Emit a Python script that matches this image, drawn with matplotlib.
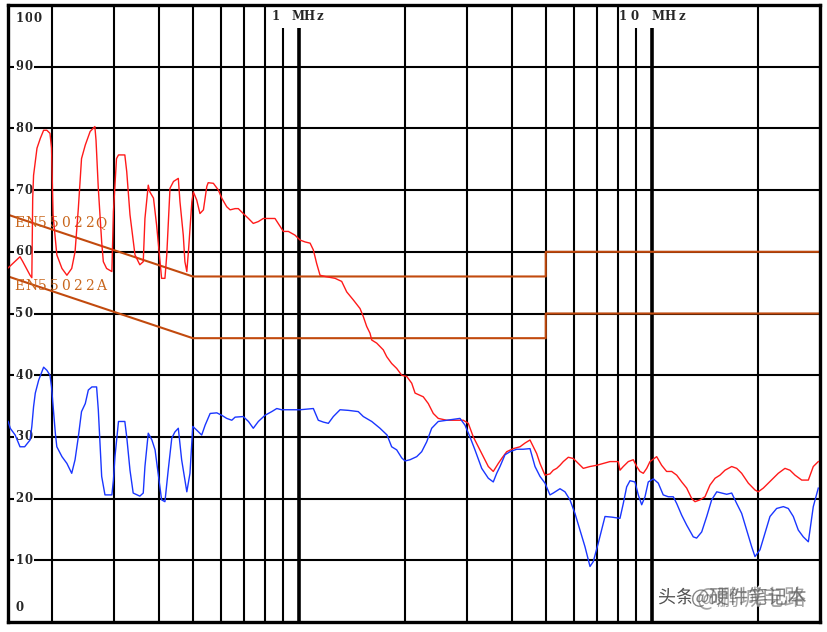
"""Conducted emission scan (EN55022 class B limits), 150 kHz - 30 MHz."""
import matplotlib
matplotlib.use("Agg")
import matplotlib.pyplot as plt
import matplotlib.patheffects as pe

# --- data (MHz, dBuV) ---
RED_F = [
    0.150, 0.162, 0.165, 0.173, 0.175, 0.176, 0.177, 0.181, 0.185, 0.189,
    0.193, 0.197, 0.199, 0.201, 0.206, 0.213, 0.220, 0.227, 0.232, 0.237,
    0.242, 0.248, 0.256, 0.264, 0.266, 0.270, 0.276, 0.279, 0.285, 0.295,
    0.298, 0.304, 0.308, 0.321, 0.325, 0.332, 0.343, 0.354, 0.362, 0.366,
    0.374, 0.378, 0.387, 0.395, 0.404, 0.408, 0.417, 0.422, 0.431, 0.441,
    0.455, 0.460, 0.470, 0.475, 0.481, 0.486, 0.497, 0.502, 0.513, 0.524,
    0.536, 0.548, 0.553, 0.572, 0.591, 0.604, 0.624, 0.638, 0.659, 0.673,
    0.695, 0.719, 0.742, 0.767, 0.792, 0.855, 0.884, 0.903, 0.933, 0.974,
    1.007, 1.040, 1.075, 1.098, 1.122, 1.147, 1.185, 1.265, 1.321, 1.365,
    1.425, 1.489, 1.521, 1.555, 1.589, 1.607, 1.660, 1.733, 1.772, 1.830,
    1.891, 1.954, 2.019, 2.086, 2.132, 2.249, 2.324, 2.401, 2.480, 2.621,
    2.797, 2.920, 3.017, 3.117, 3.220, 3.327, 3.438, 3.551, 3.669, 3.751,
    3.876, 4.046, 4.227, 4.367, 4.512, 4.610, 4.713, 4.816, 4.976, 5.140,
    5.252, 5.370, 5.487, 5.607, 5.793, 5.985, 6.183, 6.389, 6.674, 6.971,
    7.278, 7.603, 8.026, 8.115, 8.292, 8.568, 8.851, 9.050, 9.247, 9.449,
    9.661, 9.870, 10.31, 10.65, 11.00, 11.37, 11.75, 12.14, 12.54, 12.96,
    13.24, 13.68, 14.13, 14.60, 15.09, 15.58, 16.10, 16.82, 17.38, 17.95,
    18.75, 19.58, 20.00, 20.67, 21.35, 22.06, 22.79, 23.81, 24.60, 25.42,
    26.56, 27.73, 28.64, 29.59,
]
RED_DB = [
    57.4, 59.2, 58.4, 56.2, 55.8, 68.7, 72.4, 76.8, 78.4, 79.7,
    79.7, 79.2, 76.8, 66.0, 59.5, 57.3, 56.2, 57.3, 60.0, 67.0,
    75.1, 77.3, 79.5, 80.3, 78.1, 70.3, 61.6, 58.4, 57.3, 56.8,
    66.5, 75.1, 75.7, 75.7, 73.0, 66.0, 59.5, 57.9, 58.4, 65.4,
    70.8, 69.7, 68.7, 64.3, 58.4, 55.7, 55.7, 59.5, 70.3, 71.4,
    71.9, 68.1, 62.7, 58.4, 56.8, 60.0, 68.1, 69.7, 68.4, 66.2,
    66.8, 70.6, 71.2, 71.1, 70.0, 68.7, 67.3, 66.8, 67.0, 67.0,
    66.2, 65.4, 64.6, 64.9, 65.4, 65.4, 64.1, 63.3, 63.3, 62.7,
    61.9, 61.6, 61.4, 60.3, 58.1, 56.2, 56.0, 55.7, 55.2, 53.5,
    52.2, 50.8, 49.5, 47.9, 46.8, 45.7, 45.2, 44.1, 43.0, 41.9,
    41.1, 40.0, 39.8, 38.7, 37.1, 36.5, 35.4, 33.8, 33.0, 32.7,
    32.7, 32.7, 32.2, 30.0, 28.4, 26.8, 25.2, 24.4, 25.7, 26.5,
    27.6, 28.1, 28.4, 29.0, 29.5, 28.4, 27.3, 25.7, 23.8, 24.0,
    24.6, 24.9, 25.4, 26.0, 26.7, 26.5, 25.7, 24.9, 25.2, 25.4,
    25.7, 26.0, 26.0, 24.6, 25.2, 26.0, 26.3, 25.2, 24.4, 24.1,
    24.9, 26.0, 26.8, 25.4, 24.4, 24.4, 23.8, 22.7, 21.7, 20.0,
    19.5, 19.8, 20.3, 22.2, 23.3, 23.8, 24.6, 25.2, 24.9, 24.1,
    22.5, 21.4, 21.1, 21.7, 22.5, 23.3, 24.1, 24.9, 24.6, 23.8,
    23.0, 23.0, 25.2, 26.0,
]

BLUE_F = [
    0.150, 0.152, 0.157, 0.162, 0.167, 0.173, 0.175, 0.177, 0.179, 0.183,
    0.189, 0.193, 0.197, 0.199, 0.204, 0.206, 0.213, 0.220, 0.227, 0.232,
    0.237, 0.242, 0.248, 0.253, 0.259, 0.267, 0.270, 0.273, 0.276, 0.282,
    0.295, 0.298, 0.301, 0.308, 0.321, 0.325, 0.332, 0.339, 0.354, 0.362,
    0.366, 0.374, 0.383, 0.391, 0.399, 0.408, 0.417, 0.426, 0.436, 0.445,
    0.455, 0.465, 0.475, 0.481, 0.491, 0.500, 0.513, 0.530, 0.542, 0.560,
    0.585, 0.604, 0.624, 0.645, 0.659, 0.695, 0.719, 0.742, 0.767, 0.801,
    0.837, 0.865, 0.893, 1.007, 1.098, 1.134, 1.172, 1.211, 1.251, 1.307,
    1.380, 1.472, 1.521, 1.607, 1.696, 1.776, 1.830, 1.891, 1.954, 1.997,
    2.063, 2.155, 2.226, 2.300, 2.376, 2.480, 2.621, 2.858, 2.953, 3.050,
    3.151, 3.293, 3.438, 3.551, 3.631, 3.710, 3.833, 3.960, 4.137, 4.318,
    4.512, 4.662, 4.816, 4.976, 5.140, 5.252, 5.487, 5.668, 5.856, 6.050,
    6.252, 6.459, 6.674, 6.819, 7.045, 7.278, 7.360, 7.688, 8.115, 8.292,
    8.477, 8.663, 8.950, 9.145, 9.350, 9.554, 9.761, 10.09, 10.42, 10.76,
    11.12, 11.49, 11.75, 12.14, 12.54, 13.09, 13.38, 13.83, 14.29, 14.76,
    15.26, 15.76, 16.28, 16.82, 17.38, 17.95, 18.55, 19.16, 19.58, 20.23,
    20.90, 21.59, 22.55, 23.56, 24.33, 25.14, 25.97, 26.83, 27.73, 28.64,
    29.59,
]
BLUE_DB = [
    32.5, 31.4, 30.3, 28.4, 28.4, 29.5, 31.7, 34.9, 37.1, 39.2,
    41.3, 40.8, 40.0, 38.1, 30.6, 28.4, 26.8, 25.7, 24.1, 26.3,
    30.0, 34.1, 35.4, 37.6, 38.1, 38.1, 34.4, 29.0, 23.6, 20.6,
    20.6, 23.0, 26.8, 32.5, 32.5, 30.0, 24.6, 20.9, 20.4, 20.9,
    25.2, 30.6, 29.5, 27.9, 24.1, 19.8, 19.5, 24.6, 29.8, 30.8,
    31.4, 26.3, 23.0, 21.1, 24.1, 31.7, 31.1, 30.3, 31.9, 33.8,
    33.9, 33.5, 33.0, 32.7, 33.2, 33.3, 32.5, 31.4, 32.5, 33.5,
    34.1, 34.6, 34.4, 34.4, 34.6, 32.7, 32.4, 32.2, 33.3, 34.4,
    34.3, 34.1, 33.3, 32.5, 31.4, 30.3, 28.4, 27.9, 26.6, 26.1,
    26.3, 26.8, 27.6, 29.2, 31.4, 32.5, 32.7, 33.0, 31.9, 30.0,
    27.9, 24.9, 23.3, 22.7, 24.1, 25.2, 27.1, 27.6, 28.0, 28.0,
    28.1, 25.2, 23.6, 22.5, 20.6, 20.9, 21.6, 21.1, 19.8, 17.6,
    14.9, 12.2, 9.0, 9.8, 12.8, 16.0, 17.1, 17.0, 16.8, 19.2,
    21.9, 22.9, 22.7, 20.6, 19.0, 20.3, 22.7, 23.2, 22.5, 20.6,
    20.3, 20.3, 19.2, 17.3, 15.7, 13.8, 13.6, 14.6, 17.1, 19.8,
    21.1, 20.9, 20.7, 20.9, 19.2, 17.6, 14.9, 12.2, 10.6, 11.7,
    14.4, 17.1, 18.4, 18.7, 18.4, 17.1, 14.9, 13.8, 13.0, 18.7,
    21.7,
]

# EN55022 class B limits
LIM_F = [0.15, 0.5, 5.0, 5.0, 30.0]
QP_DB = [66, 56, 56, 60, 60]
AV_DB = [56, 46, 46, 50, 50]
LIM_NAMES = ["EN55022Q", "EN55022A"]
LIM_LABEL_DB = [64.6, 54.5]

Y_TICKS = [0, 10, 20, 30, 40, 50, 60, 70, 80, 90, 100]
GRID_MINOR = [0.2, 0.3, 0.4, 0.5, 0.6, 0.7, 0.8, 0.9,
              2, 3, 4, 5, 6, 7, 8, 9, 20]
GRID_MAJOR = [1, 10]
MHZ_LABELS = ["1 MHz", "10 MHz"]
# span (MHz) of the white gap cut into the grid behind each label
MHZ_GAPS = [(0.82, 1.22), (8.2, 12.6)]

LIMIT_COLOR = "#C24A0E"
LABEL_COLOR = "#C8661C"
TICK_COLOR = "#262626"


def spaced_text(ax, xy, text, x0, step, coords, **kw):
    """draw text one glyph at a time with a fixed pixel pitch (old analyser font)"""
    for i, ch in enumerate(text):
        if ch == " ":
            continue
        ax.annotate(ch, xy=xy, xycoords=coords, xytext=(x0 + i * step, 0),
                    textcoords="offset pixels", ha="center", va="center",
                    annotation_clip=False, **kw)


def main():
    plt.rcParams["font.family"] = ["DejaVu Serif"]
    fig = plt.figure(figsize=(8.27, 6.32), dpi=100)
    ax = fig.add_axes([8.2 / 827, 10 / 632, 812.2 / 827, 617 / 632])
    ax.set_xscale("log")
    ax.set_xlim(0.15, 30)
    ax.set_ylim(0, 100)
    ax.set_xticks([])
    ax.set_xticks([], minor=True)
    ax.set_yticks([])
    for s in ax.spines.values():
        s.set_linewidth(2.4)
        s.set_color("black")
        s.set_zorder(4)

    # grid
    for v in Y_TICKS[1:-1]:
        ax.axhline(v, color="black", lw=1.5, zorder=1)
    for f in GRID_MINOR:
        ax.axvline(f, color="black", lw=1.5, zorder=1)
    for f in GRID_MAJOR:
        ax.axvline(f, color="black", lw=2.6, zorder=1)

    ytr = ax.get_yaxis_transform()
    # y labels sit on the grid line, 0 and 100 pulled inside the frame
    for v in Y_TICKS:
        pos = min(max(v, 2.3), 97.8)
        spaced_text(ax, (0, pos), str(v), 11.0, 9.2, ytr,
                    fontsize=8.5, fontweight="bold", color=TICK_COLOR,
                    zorder=2,
                    bbox=dict(facecolor="white", edgecolor="none", pad=0.8))

    # frequency labels across the top of the decade lines
    for (lo, hi) in MHZ_GAPS:
        ax.axvspan(lo, hi, ymin=0.962, ymax=0.996, facecolor="white",
                   edgecolor="none", zorder=1.5)
    spaced_text(ax, (GRID_MAJOR[0], 98.1), MHZ_LABELS[0], -23, 11.0, "data",
                fontsize=8.5, fontweight="bold", color=TICK_COLOR, zorder=2)
    spaced_text(ax, (GRID_MAJOR[1], 98.1), MHZ_LABELS[1], -29, 11.7, "data",
                fontsize=8.5, fontweight="bold", color=TICK_COLOR, zorder=2)

    # limits
    ax.plot(LIM_F, QP_DB, color=LIMIT_COLOR, lw=1.5, zorder=3)
    ax.plot(LIM_F, AV_DB, color=LIMIT_COLOR, lw=1.5, zorder=3)
    for name, y in zip(LIM_NAMES, LIM_LABEL_DB):
        spaced_text(ax, (0, y), name, 11.3, 11.6, ytr,
                    fontsize=10, color=LABEL_COLOR, zorder=3)

    # measurements
    ax.plot(RED_F, RED_DB, color="#FF1A1A", lw=1.0, zorder=5)
    ax.plot(BLUE_F, BLUE_DB, color="#1A36FF", lw=1.0, zorder=5)

    # watermark (two overlapping stamps, as in the source screenshot)
    cjk = ["Noto Sans CJK SC", "DejaVu Sans"]
    halo = [pe.withStroke(linewidth=2.5, foreground="white")]
    fig.text(676 / 827, 1 - 598 / 632, "头条", family=cjk, fontsize=13,
             color="#505050", ha="center", va="center", path_effects=halo,
             zorder=6)
    fig.text(807 / 827, 1 - 598 / 632, "@硬件笔记本", family=cjk, fontsize=14,
             color="#6a6a6a", alpha=0.8, ha="right", va="center",
             path_effects=halo, zorder=6)
    fig.text(807 / 827, 1 - 598 / 632, "@鹏城电路", family=cjk, fontsize=16,
             color="#5a5a5a", alpha=0.55, ha="right", va="center", zorder=7)

    fig.savefig("out.png", dpi=100)


if __name__ == "__main__":
    main()
